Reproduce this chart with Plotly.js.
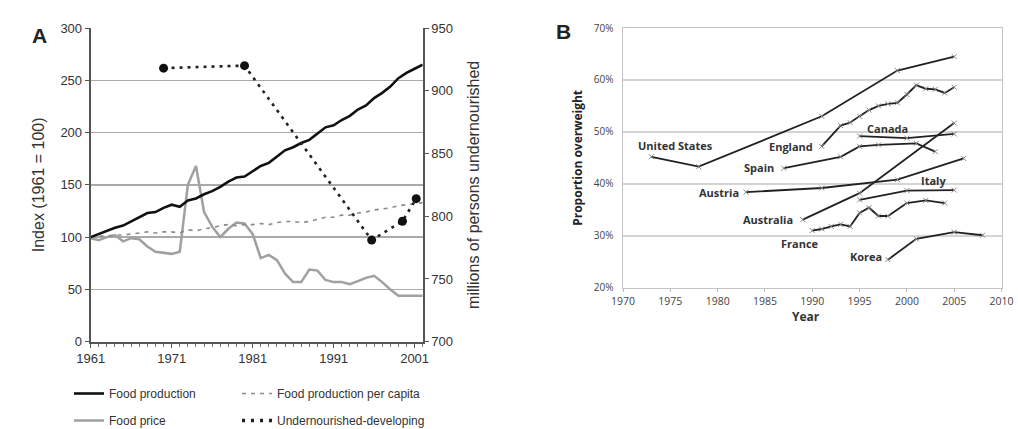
<!DOCTYPE html>
<html><head><meta charset="utf-8">
<script src="https://cdn.plot.ly/plotly-3.0.1.min.js"></script>
<style>html,body{margin:0;padding:0;background:#fff}#chart{width:1018px;height:429px}</style>
</head><body><div id="chart"></div>
<script>
// ---------- Panel A data ----------
const years = [1961,1962,1963,1964,1965,1966,1967,1968,1969,1970,1971,1972,1973,1974,1975,1976,1977,1978,1979,1980,1981,1982,1983,1984,1985,1986,1987,1988,1989,1990,1991,1992,1993,1994,1995,1996,1997,1998,1999,2000,2001,2002];
const foodProduction = [100,103,106,109,111,115,119,123,124,128,131,129,135,137,141,144,148,153,157,158,163,168,171,177,183,186,190,193,199,205,207,212,216,222,226,233,238,244,252,257,261,265];
const foodProdPerCapita = [100,101,101,102,102,103,104,105,104,105,105,104,107,106,108,109,111,112,111,112,112,113,112,114,115,115,114,115,117,119,119,121,121,123,124,126,127,128,130,131,132,133];
const foodPrice = [99,97,100,102,96,99,98,91,86,85,84,86,150,168,124,110,100,108,114,113,103,80,83,78,65,57,57,69,68,59,57,57,55,58,61,63,57,50,44,44,44,44];
const undernourYears = [1970,1980,1995.7,1999.5,2001.2];
const undernourished = [918,920,781,796,814];

// ---------- Panel B data ----------
const usYears = [1973,1978,1991,1999,2005];
const usPct = [0.452,0.433,0.530,0.618,0.645];
const englandYears = [1991,1993,1994,1995,1996,1997,1998,1999,2000,2001,2002,2003,2004,2005];
const englandPct = [0.472,0.512,0.518,0.530,0.542,0.550,0.554,0.556,0.572,0.590,0.583,0.582,0.575,0.586];
const canadaYears = [1995,2000,2005];
const canadaPct = [0.492,0.488,0.496];
const spainYears = [1987,1993,1995,1997,2001,2003];
const spainPct = [0.430,0.452,0.472,0.475,0.478,0.462];
const austriaYears = [1983,1991,1999,2006];
const austriaPct = [0.384,0.392,0.408,0.449];
const australiaYears = [1989,1995,2005];
const australiaPct = [0.331,0.382,0.517];
const italyYears = [1995,2000,2005];
const italyPct = [0.369,0.387,0.388];
const franceYears = [1990,1991,1992,1993,1994,1995,1996,1997,1998,2000,2002,2004];
const francePct = [0.310,0.313,0.318,0.322,0.318,0.344,0.354,0.338,0.338,0.363,0.368,0.363];
const koreaYears = [1998,2001,2005,2008];
const koreaPct = [0.254,0.294,0.307,0.301];

const countryNames = ['United States','England','Canada','Spain','Austria','Australia','Italy','France','Korea'];
const countryX = [usYears,englandYears,canadaYears,spainYears,austriaYears,australiaYears,italyYears,franceYears,koreaYears];
const countryY = [usPct,englandPct,canadaPct,spainPct,austriaPct,australiaPct,italyPct,francePct,koreaPct];
const labelYear = [1975.5,1987.8,1997.9,1984.4,1980.1,1985.3,2002.8,1988.7,1995.7];
const labelPct = [0.473,0.471,0.507,0.431,0.384,0.331,0.406,0.285,0.260];

const AF = 'Arial, "Liberation Sans", sans-serif';
const BF = '"Open Sans", "Noto Sans", sans-serif';

const traces = [
  {x: years, y: foodPrice, type:'scatter', mode:'lines', name:'Food price', xaxis:'x', yaxis:'y',
   line:{color:'#a0a0a0', width:2.5}, legend:'legend', legendgroup:'g2', legendrank:2},
  {x: years, y: foodProdPerCapita, type:'scatter', mode:'lines', name:'Food production per capita', xaxis:'x', yaxis:'y',
   line:{color:'#8a8a8a', width:1.6, dash:'4px,5px'}, legend:'legend2', legendgroup:'g3', legendrank:1},
  {x: years, y: foodProduction, type:'scatter', mode:'lines', name:'Food production', xaxis:'x', yaxis:'y',
   line:{color:'#111', width:2.6}, legend:'legend', legendgroup:'g1', legendrank:1},
  {x: undernourYears, y: undernourished, type:'scatter', mode:'lines+markers', name:'Undernourished-developing', xaxis:'x', yaxis:'y2',
   line:{color:'#222', width:2.6, dash:'3px,5px'}, marker:{color:'#111', size:9}, showlegend:false},
  {x:[null], y:[null], type:'scatter', mode:'lines', name:'Undernourished-developing', xaxis:'x', yaxis:'y2',
   line:{color:'#222', width:3.5, dash:'3px,6px'}, legend:'legend2', legendgroup:'g4', legendrank:2}
];

for (let i = 0; i < countryNames.length; i++) {
  traces.push({x: countryX[i], y: countryY[i], type:'scatter', mode:'lines+markers', name: countryNames[i],
    xaxis:'x2', yaxis:'y3', showlegend:false,
    line:{color:'#222', width:1.8},
    marker:{symbol:'x-thin', size:5, color:'#888', line:{color:'#888', width:1}}});
}

const annotations = [
  {text:'<b>A</b>', x:30/1018, y:1-22/429, xref:'paper', yref:'paper', showarrow:false, font:{family:AF, size:21, color:'#222'}},
  {text:'<b>B</b>', x:563/1018, y:1-18/429, xref:'paper', yref:'paper', showarrow:false, font:{family:AF, size:21, color:'#222'}},
  {text:'<b>Year</b>', x:806/1018, y:1-316/429, xref:'paper', yref:'paper', xanchor:'center', yanchor:'middle', showarrow:false, font:{family:BF, size:12, color:'#333'}}
];
for (let i = 0; i < countryNames.length; i++) {
  annotations.push({text:'<b>'+countryNames[i]+'</b>', x: labelYear[i], y: labelPct[i], xref:'x2', yref:'y3',
    xanchor:'center', yanchor:'middle', showarrow:false, font:{family:BF, size:11, color:'#333'}});
}

const layout = {
  width:1018, height:429, margin:{l:0,r:0,t:0,b:0, autoexpand:false}, paper_bgcolor:'#fff', plot_bgcolor:'rgba(0,0,0,0)',
  font:{family:AF, color:'#333'},
  xaxis:{domain:[90.7/1018, 422.7/1018], range:[1961,2002], tick0:1961, dtick:10, anchor:'y',
    showgrid:false, zeroline:false, showline:true, linecolor:'#555', linewidth:2,
    ticks:'outside', ticklen:4, tickcolor:'#555', tickfont:{family:AF, size:13, color:'#333'},
    minor:{dtick:1, tick0:1961, ticks:'outside', ticklen:3, tickcolor:'#777', showgrid:false}},
  yaxis:{domain:[1-341.7/429, 1-28/429], range:[0,300], dtick:50, anchor:'x',
    showgrid:true, gridcolor:'#aaa', gridwidth:1.5, zeroline:false, showline:true, linecolor:'#555', linewidth:2,
    ticks:'outside', ticklen:4, tickcolor:'#555', tickfont:{family:AF, size:13, color:'#333'},
    title:{text:'Index (1961 = 100)', font:{family:AF, size:16, color:'#333'}, standoff:12}},
  yaxis2:{domain:[1-341.7/429, 1-28/429], range:[700,950], dtick:50, anchor:'x', overlaying:'y', side:'right',
    showgrid:false, zeroline:false, showline:true, linecolor:'#555', linewidth:2,
    ticks:'outside', ticklen:4, tickcolor:'#555', tickfont:{family:AF, size:13, color:'#333'},
    title:{text:'millions of persons undernourished', font:{family:AF, size:16, color:'#333'}, standoff:16}},
  xaxis2:{domain:[623/1018, 1001.5/1018], range:[1970,2010], dtick:5, anchor:'y3',
    showgrid:false, zeroline:false, showline:true, mirror:true, linecolor:'#c4c4c4', linewidth:1.5,
    ticks:'outside', ticklen:3, tickcolor:'#bbb', ticklabelstandoff:0, tickfont:{family:BF, size:10.5, color:'#444'}},
  yaxis3:{domain:[1-287.7/429, 1-28/429], range:[0.2,0.7], dtick:0.1, tickformat:'.0%', anchor:'x2',
    showgrid:true, gridcolor:'#d4d4d4', gridwidth:1.5, zeroline:false, showline:true, mirror:true, linecolor:'#c4c4c4', linewidth:1.5,
    ticks:'', ticklabelstandoff:6, tickfont:{family:BF, size:10, color:'#444'},
    title:{text:'<b>Proportion overweight</b>', font:{family:BF, size:12, color:'#222'}, standoff:8}},
  legend:{x:69/1018, y:1-379/429, xanchor:'left', yanchor:'top', orientation:'v', tracegroupgap:8,
    bgcolor:'rgba(0,0,0,0)', font:{family:AF, size:12, color:'#333'}, traceorder:'grouped'},
  legend2:{x:237/1018, y:1-379/429, xanchor:'left', yanchor:'top', orientation:'v', tracegroupgap:8,
    bgcolor:'rgba(0,0,0,0)', font:{family:AF, size:12, color:'#333'}, traceorder:'grouped'},
  annotations: annotations,
  showlegend:true
};

Plotly.newPlot('chart', traces, layout, {displayModeBar:false, staticPlot:true});
</script>
</body></html>
